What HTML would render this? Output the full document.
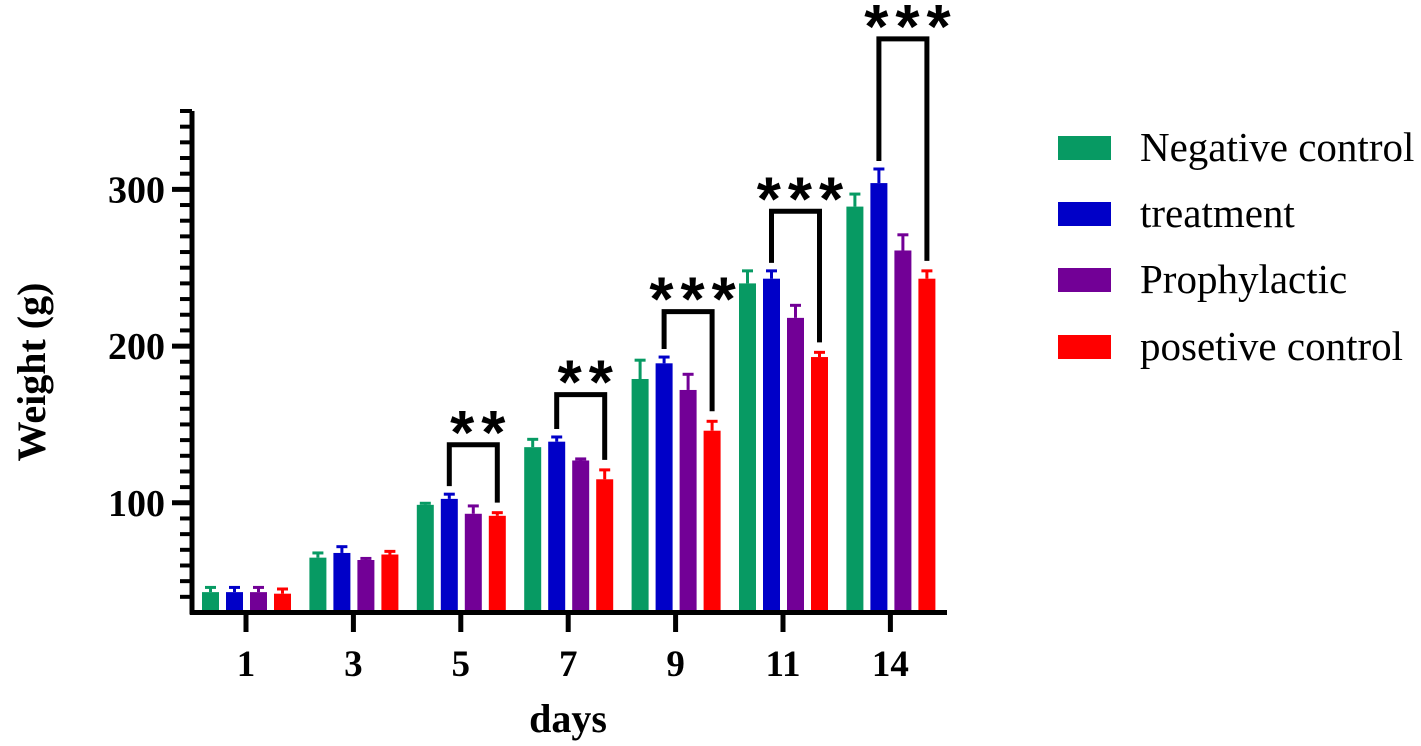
<!DOCTYPE html>
<html><head><meta charset="utf-8"><style>
body{margin:0;background:#fff;}
svg{display:block;font-family:"Liberation Serif",serif;}
</style></head><body>
<svg id="chart" width="1421" height="746" viewBox="0 0 1421 746">
<g id="marks"></g>
<g id="axes"></g>
<g id="legend"></g>
</svg>
<script>
const categories = ["1","3","5","7","9","11","14"];
const seriesNames = ["Negative control","treatment","Prophylactic","posetive control"];
const negativeControl = [43,65,98.7,135.5,179,240,289];
const treatment = [43,68,102.5,139,189,243,304];
const prophylactic = [43,63.5,93,127,172,218,261];
const positiveControl = [42,67,91.7,115,146,193,243];
const negErr = [3,3,1,5,12,8,8];
const treatErr = [3,4,3,3,4,5,9];
const prophErr = [3,1,5,1,10,8,10];
const posErr = [3,2,2,6,6,3,5];
const yTicks = [100,200,300];
const sigLabels = ["", "", "**","**","***","***","***"];
const sigTop = [0,0,137,169,222,286,396];
const colors = ["#079a63","#0000c8","#720096","#ff0000"];
const NS="http://www.w3.org/2000/svg";
const yMin=30,yMax=350,y0=612.5,y1=111;
function y(v){return y0-(v-yMin)*(y0-y1)/(yMax-yMin);}
function gx(i){return 246+i*107.4;}
function bx(i,s){return gx(i)-44+s*24;}
function mk(tag,attrs,parent){const e=document.createElementNS(NS,tag);for(const k in attrs)e.setAttribute(k,attrs[k]);parent.appendChild(e);return e;}
const marks=document.getElementById('marks'),axes=document.getElementById('axes'),legend=document.getElementById('legend');
const series=[negativeControl,treatment,prophylactic,positiveControl];
const errs=[negErr,treatErr,prophErr,posErr];
series.forEach((arr,s)=>{arr.forEach((v,i)=>{
  const x=bx(i,s);
  const e=mk('line',{x1:x+8.5,x2:x+8.5,y1:y(v),y2:y(v+errs[s][i]),stroke:colors[s],'stroke-width':3},marks);
  
  
  const c=mk('line',{x1:x+3,x2:x+14,y1:y(v+errs[s][i]),y2:y(v+errs[s][i]),stroke:colors[s],'stroke-width':3},marks);
  
  
  const r=mk('rect',{x:x,y:y(v),width:17,height:y0-y(v),fill:colors[s]},marks);
  
  
});});
sigLabels.forEach((lab,i)=>{
  if(!lab)return;
  const xl=bx(i,1)+8.5,xr=bx(i,3)+8.5,top=y(sigTop[i]);
  const lb=y(treatment[i]+treatErr[i])-8,rb=y(positiveControl[i]+posErr[i])-10;
  const p=mk('path',{d:`M${xl},${lb} L${xl},${top} L${xr},${top} L${xr},${rb}`,fill:'none',stroke:'#000','stroke-width':5,'stroke-linejoin':'miter'},marks);
  
  
  const t=mk('text',{x:(xl+xr)/2+8,y:top+9,'text-anchor':'middle','font-size':62,'font-weight':'bold','letter-spacing':7,'font-family':'"Liberation Sans",sans-serif'},marks);
  t.textContent=lab;
  
  
});
const ya=mk('line',{x1:192,x2:192,y1:y1,y2:y0+2,stroke:'#000','stroke-width':5},axes);


const xa=mk('line',{x1:190,x2:947,y1:y0,y2:y0,stroke:'#000','stroke-width':5},axes);


for(let v=yMin+10;v<=yMax;v+=10){
  const major=yTicks.includes(v);
  const t=mk('line',{x1:major?172:180,x2:192,y1:y(v),y2:y(v),stroke:'#000','stroke-width':major?5:4},axes);
  
  
}
yTicks.forEach(v=>{
  const t=mk('text',{x:165,y:y(v)+13,'text-anchor':'end','font-size':38,'font-weight':'bold'},axes);
  t.textContent=v;
  
  
});
categories.forEach((c,i)=>{
  const t=mk('line',{x1:gx(i),x2:gx(i),y1:y0,y2:632,stroke:'#000','stroke-width':5},axes);
  
  
  const l=mk('text',{x:gx(i),y:676,'text-anchor':'middle','font-size':37,'font-weight':'bold'},axes);
  l.textContent=c;
  
  
});
const xt=mk('text',{x:568,y:732,'text-anchor':'middle','font-size':40,'font-weight':'bold'},axes);
xt.textContent='days';


const yt=mk('text',{x:0,y:0,transform:'translate(45,372) rotate(-90)','text-anchor':'middle','font-size':40,'font-weight':'bold'},axes);
yt.textContent='Weight (g)';


const legY=[148,214,280,347];
seriesNames.forEach((n,s)=>{
  const r=mk('rect',{x:1058,y:legY[s]-12,width:53,height:24,fill:colors[s]},legend);
  
  
  const t=mk('text',{x:1140,y:legY[s]+13,'font-size':41},legend);
  t.textContent=n;
  
  
});
</script>
</body></html>
